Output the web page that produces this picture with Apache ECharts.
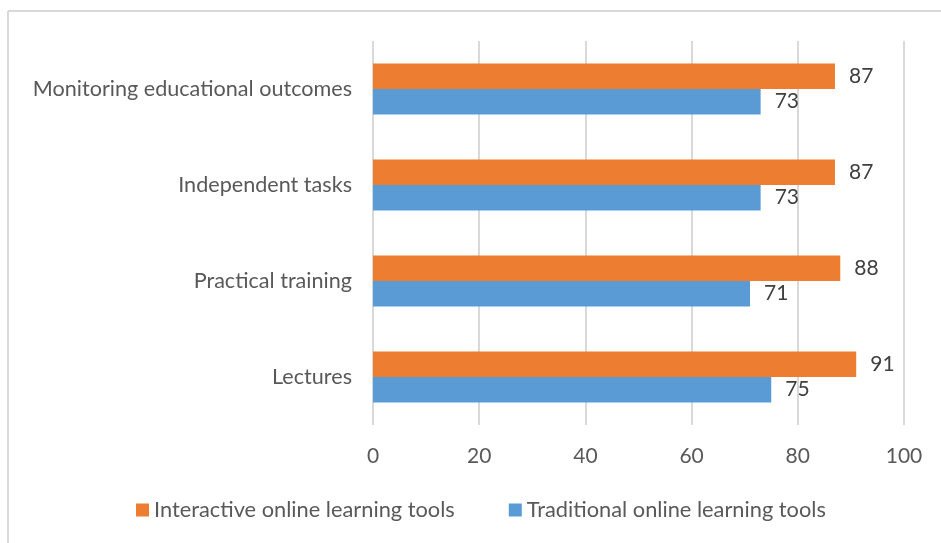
<!DOCTYPE html>
<html>
<head>
<meta charset="utf-8">
<script src="https://cdn.jsdelivr.net/npm/echarts@6/dist/echarts.min.js"></script>
<style>
  html, body { margin: 0; padding: 0; background: #fff; }
  #chart { width: 941px; height: 543px; }
</style>
</head>
<body>
<div id="chart"></div>
<script>
const categories = ['Lectures', 'Practical training', 'Independent tasks', 'Monitoring educational outcomes']
const interactive = [91, 88, 87, 87]
const traditional = [75, 71, 73, 73]
const xTicks = { min: 0, max: 100, interval: 20 }

const font = 'Lato, "Open Sans", sans-serif'
const chart = echarts.init(document.getElementById('chart'))

chart.setOption({
  animation: false,
  backgroundColor: '#fff',
  textStyle: { fontFamily: font },
  graphic: [
    // chart frame (left + top edges only, like the cropped reference)
    { type: 'line', shape: { x1: 8, y1: 11, x2: 8, y2: 543 }, style: { stroke: '#d9d9d9', lineWidth: 2 } },
    { type: 'line', shape: { x1: 8, y1: 11, x2: 941, y2: 11 }, style: { stroke: '#d9d9d9', lineWidth: 2 } },
  ],
  grid: { left: 373, right: 37, top: 41, bottom: 118, containLabel: false },
  legend: {
    left: 136,
    top: 499,
    padding: 0,
    itemWidth: 13,
    itemHeight: 13,
    itemGap: 54,
    icon: 'rect',
    textStyle: { fontSize: 21.8, color: '#595959', fontFamily: font },
    data: ['Interactive online learning tools', 'Traditional online learning tools'],
  },
  xAxis: {
    type: 'value',
    min: xTicks.min,
    max: xTicks.max,
    interval: xTicks.interval,
    axisLine: { show: false },
    axisTick: { show: false },
    axisLabel: { color: '#595959', fontSize: 21, margin: 21 },
    splitLine: { lineStyle: { color: '#d9d9d9', width: 2 } },
  },
  yAxis: {
    type: 'category',
    data: categories,
    axisLine: { show: false },
    axisTick: { show: false },
    axisLabel: { color: '#595959', fontSize: 21.6, margin: 21 },
    splitLine: { show: false },
  },
  series: [
    {
      name: 'Interactive online learning tools',
      type: 'bar',
      data: interactive,
      barGap: '0%',
      barCategoryGap: '47%',
      itemStyle: { color: '#ed7d31' },
      label: { show: true, position: 'right', distance: 14, fontSize: 21, color: '#404040' },
    },
    {
      name: 'Traditional online learning tools',
      type: 'bar',
      data: traditional,
      barGap: '0%',
      barCategoryGap: '47%',
      itemStyle: { color: '#5b9bd5' },
      label: { show: true, position: 'right', distance: 14, fontSize: 21, color: '#404040' },
    },
  ],
})
</script>
</body>
</html>
